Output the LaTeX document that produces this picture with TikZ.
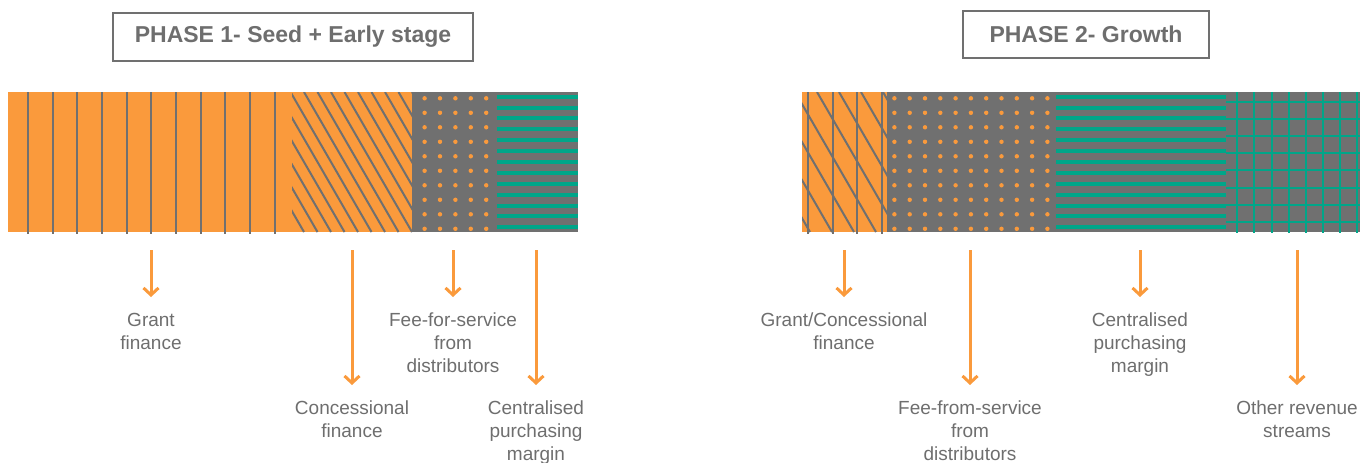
\documentclass[tikz,border=0pt]{standalone}
\usepackage{fontspec}
\setmainfont{Liberation Sans}
\usetikzlibrary{arrows.meta}

\definecolor{phorange}{HTML}{FA9A3C}
\definecolor{phgray}{HTML}{707070}
\definecolor{phteal}{HTML}{00A689}
\definecolor{phtext}{HTML}{6E6E6E}

\tikzset{
  phasebox/.style={draw=phgray, line width=2pt, text=phtext, inner sep=0pt,
    font=\fontsize{23}{27}\selectfont\bfseries},
  revlabel/.style={text=phtext, font=\fontsize{19}{23}\selectfont,
    align=center, anchor=north, inner sep=0pt},
  revarrow/.style={draw=phorange, line width=3pt,
    -{Straight Barb[length=7pt,width=15pt]}, shorten >=16pt},
  barline/.style={draw=phgray, line width=2pt},
  gridline/.style={draw=phteal, line width=2pt},
}

\begin{document}
\begin{tikzpicture}[x=1pt, y=-1pt]
            \useasboundingbox (0,0) rectangle (1360,463);
            % phase 1 bar
            \fill[phorange] (8,92) rectangle (412,232);
            \fill[phgray] (412,92) rectangle (578,232);
            \foreach \k in {0,...,10}
              \draw[barline] ({28+24.66*\k},92) -- ({28+24.66*\k},234);
            \begin{scope}
              \clip (292,92) rectangle (412,232);
              \foreach \k in {-7,...,9}
                \draw[barline] ({290.5+13.5*\k},92) -- ++(81,140);
            \end{scope}
            \foreach \i in {0,...,9}
              \foreach \j in {0,...,4}
                \fill[phorange] ({424.6+15.4*\j},{98.3+14.5*\i}) circle (2.2);
            \foreach \i in {0,...,12}
              \fill[phteal] (497,{94.7+10.88*\i}) rectangle (578,{98.7+10.88*\i});
            % phase 2 bar
            \fill[phorange] (802,92) rectangle (887,232);
            \fill[phgray] (887,92) rectangle (1360,232);
            \foreach \k in {0,...,3}
              \draw[barline] ({808+24.6*\k},92) -- ({808+24.6*\k},234);
            \begin{scope}
              \clip (802,92) rectangle (887,232);
              \foreach \k in {-4,...,3}
                \draw[barline] ({817+22*\k},92) -- ++(81,140);
            \end{scope}
            \foreach \i in {0,...,9}
              \foreach \j in {0,...,10}
                \fill[phorange] ({894.4+15.3*\j},{98.3+14.5*\i}) circle (2.2);
            \foreach \i in {0,...,12}
              \fill[phteal] (1056,{94.7+10.88*\i}) rectangle (1226,{98.7+10.88*\i});
            \foreach \k in {0,...,7} {
              \draw[gridline] ({1237.3+17.1*\k},92) -- ({1237.3+17.1*\k},233);
              \draw[gridline] (1226,{102+17.1*\k}) -- (1360,{102+17.1*\k});
            }
            % phase titles
            \node[phasebox, minimum width=360pt, minimum height=48pt] (phaseone) at (293,37) {PHASE 1- Seed + Early stage};
            \node[phasebox, minimum width=246pt, minimum height=47pt] (phasetwo) at (1086,34.5) {PHASE 2- Growth};
            % labels
            \node[revlabel] (grant) at (151,313) {Grant\\finance};
            \node[revlabel] (concess) at (352,401) {Concessional\\finance};
            \node[revlabel] (feeserv) at (453,313) {Fee-for-service\\from\\distributors};
            \node[revlabel] (central) at (536,401) {Centralised\\purchasing\\margin};
            \node[revlabel] (grantconc) at (844,313) {Grant/Concessional\\finance};
            \node[revlabel] (feefrom) at (970,401) {Fee-from-service\\from\\distributors};
            \node[revlabel] (centraltwo) at (1140,313) {Centralised\\purchasing\\margin};
            \node[revlabel] (other) at (1297,401) {Other revenue\\streams};
            % arrows
            \foreach \n/\x in {grant/151, concess/352, feeserv/453, central/536,
                               grantconc/844, feefrom/970, centraltwo/1140, other/1297} {
              \coordinate (\n top) at (\x,250);
              \draw[revarrow] (\n top) -- (\n.north);
            }
        \end{tikzpicture}
\end{document}
